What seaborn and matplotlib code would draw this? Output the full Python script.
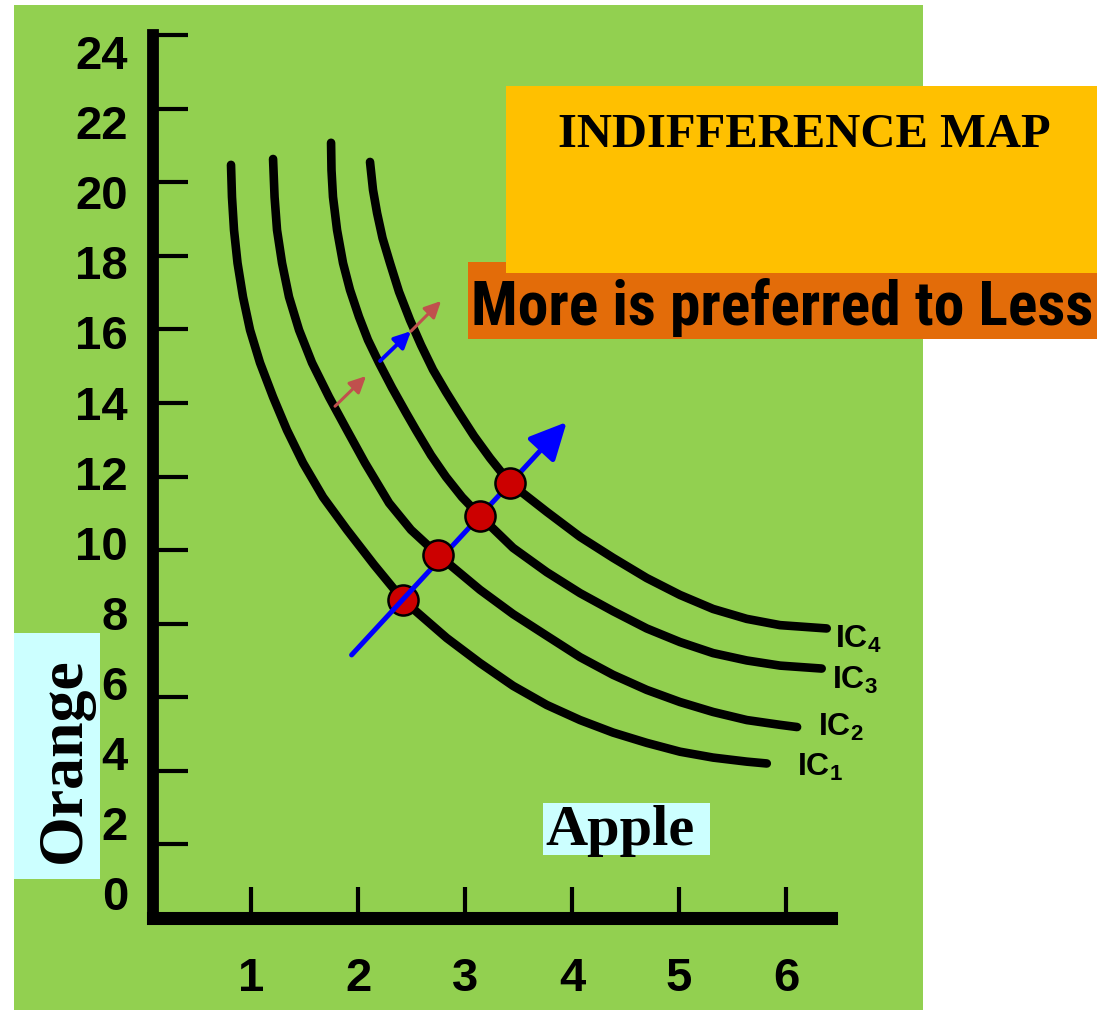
import numpy as np
import pandas as pd
import matplotlib
matplotlib.use("Agg")
import matplotlib.pyplot as plt
from matplotlib import font_manager
from matplotlib.font_manager import FontProperties
from matplotlib.patches import Rectangle
import seaborn as sns

# indifference curves (apple, orange)
apple_ic1 = [0.813, 0.822, 0.841, 0.874, 0.925, 0.991, 1.084, 1.206, 1.336, 1.486, 1.673, 1.897, 2.150,
             2.421, 2.829, 3.140, 3.449, 3.764, 4.075, 4.383, 4.698, 5.009, 5.318, 5.633, 5.820]
orange_ic1 = [20.47, 19.60, 18.70, 17.80, 16.88, 15.98, 15.09, 14.16, 13.26, 12.37, 11.44, 10.55, 9.60,
              8.64, 7.61, 6.93, 6.31, 5.79, 5.38, 5.04, 4.76, 4.52, 4.36, 4.25, 4.20]
apple_ic2 = [1.206, 1.220, 1.243, 1.290, 1.355, 1.449, 1.570, 1.729, 1.897, 2.065, 2.290, 2.495,
             2.748, 3.140, 3.449, 3.764, 4.075, 4.383, 4.698, 5.009, 5.318, 5.633, 5.944, 6.103]
orange_ic2 = [20.63, 19.60, 18.70, 17.80, 16.88, 15.98, 15.09, 14.16, 13.26, 12.37, 11.28, 10.55,
              9.87, 8.92, 8.26, 7.67, 7.09, 6.61, 6.20, 5.87, 5.60, 5.38, 5.25, 5.19]
apple_ic3 = [1.748, 1.752, 1.766, 1.804, 1.860, 1.925, 2.009, 2.093, 2.196, 2.318, 2.449, 2.542, 2.682,
             2.822, 2.972, 3.140, 3.449, 3.764, 4.075, 4.383, 4.698, 5.009, 5.318, 5.633, 5.944, 6.333]
orange_ic3 = [21.07, 20.33, 19.60, 18.70, 17.80, 17.07, 16.34, 15.71, 15.09, 14.41, 13.73, 13.26, 12.58,
              11.99, 11.44, 10.93, 10.06, 9.40, 8.83, 8.34, 7.87, 7.50, 7.20, 7.00, 6.86, 6.78]
apple_ic4 = [2.112, 2.140, 2.178, 2.229, 2.299, 2.383, 2.486, 2.589, 2.701, 2.822, 2.944, 3.084, 3.234,
             3.421, 3.764, 4.075, 4.383, 4.698, 5.009, 5.318, 5.633, 5.944, 6.380]
orange_ic4 = [20.55, 19.79, 19.16, 18.48, 17.80, 17.02, 16.25, 15.57, 14.90, 14.30, 13.73, 13.10, 12.50,
              11.82, 11.04, 10.36, 9.79, 9.24, 8.78, 8.40, 8.13, 7.96, 7.87]
curve_names = ["IC1", "IC2", "IC3", "IC4"]

# chosen bundles (red dots)
bundle_apple = [2.42, 2.75, 3.14, 3.42]
bundle_orange = [8.64, 9.87, 10.93, 11.82]

# arrows: (tail, tip)
big_arrow = ((1.94, 7.15), (3.95, 13.48))
small_arrows = [((1.785, 13.91), (2.075, 14.73), "#C0504D"),
                ((2.495, 15.95), (2.776, 16.77), "#C0504D"),
                ((2.206, 15.14), (2.495, 15.95), "#0000FF")]

x_ticks = [1, 2, 3, 4, 5, 6]
y_ticks = [2, 4, 6, 8, 10, 12, 14, 16, 18, 20, 22, 24]
y_tick_labels = [0, 2, 4, 6, 8, 10, 12, 14, 16, 18, 20, 22, 24]

sns.set_style("ticks")
plt.rcParams["font.family"] = ["Liberation Sans", "DejaVu Sans"]
plt.rcParams["font.weight"] = "bold"
for k in ["text.color", "xtick.color", "ytick.color", "axes.labelcolor", "axes.edgecolor"]:
    plt.rcParams[k] = "black"
plt.rcParams["mathtext.fontset"] = "custom"
for k in ["rm", "it", "bf", "sf"]:
    plt.rcParams["mathtext." + k] = "Liberation Sans:bold"

# a narrow bold face for the slogan, if one is installed
narrow_prop = None
for cand in ["Liberation Sans Narrow", "Roboto Condensed", "Open Sans Condensed", "Noto Sans Condensed"]:
    for f in font_manager.fontManager.ttflist:
        if f.name == cand and f.weight in ("bold", 700):
            narrow_prop = FontProperties(fname=f.fname)
            break
    if narrow_prop is not None:
        break
if narrow_prop is None:
    for f in font_manager.fontManager.ttflist:
        if f.stretch in ("condensed", "semi-condensed", 300, 400) and f.weight in ("bold", 700):
            narrow_prop = FontProperties(fname=f.fname)
            break
if narrow_prop is None:
    narrow_prop = FontProperties(family="Liberation Sans", weight="bold")

W, H = 1097, 1010
fig = plt.figure(figsize=(W / 100, H / 100), dpi=100)
fig.patch.set_facecolor("white")


def box(x0, y0, x1, y1, color, z):
    fig.add_artist(Rectangle((x0 / W, 1 - y1 / H), (x1 - x0) / W, (y1 - y0) / H,
                             transform=fig.transFigure, color=color, lw=0, zorder=z))


box(14, 5, 923, 1010, "#92D050", -5)
box(14, 633, 100, 879, "#CCFFFF", 1)
box(543, 803, 710, 855, "#CCFFFF", 1)
box(468, 262, 1097, 339, "#E36C09", 1)
box(506, 86, 1097, 273, "#FFC000", 2)

ax = fig.add_axes([153 / W, 1 - 918 / H, (831 - 153) / W, (918 - 35) / H])
ax.set_facecolor("none")

df = pd.concat([
    pd.DataFrame({"apple": a, "orange": o, "curve": n})
    for a, o, n in zip([apple_ic1, apple_ic2, apple_ic3, apple_ic4],
                       [orange_ic1, orange_ic2, orange_ic3, orange_ic4], curve_names)
])
sns.lineplot(data=df, x="apple", y="orange", units="curve", estimator=None, sort=False,
             color="black", lw=6.2, solid_capstyle="round", solid_joinstyle="round",
             zorder=2, ax=ax, legend=False)

# expansion arrow, first dot sits under it, the others above
sns.scatterplot(x=bundle_apple[:1], y=bundle_orange[:1], s=470, color="#CC0000",
                edgecolor="black", linewidth=1.8, zorder=3, ax=ax, legend=False)
(tx, ty), (hx, hy) = big_arrow
ax.annotate("", xy=(hx, hy), xytext=(tx, ty), zorder=4, annotation_clip=False,
            arrowprops=dict(arrowstyle="-|>,head_length=0.45,head_width=0.22", color="#0000FF",
                            lw=3.6, mutation_scale=50, shrinkA=0, shrinkB=0))
sns.scatterplot(x=bundle_apple[1:], y=bundle_orange[1:], s=470, color="#CC0000",
                edgecolor="black", linewidth=1.8, zorder=5, ax=ax, legend=False)

for (tx, ty), (hx, hy), c in small_arrows:
    ax.annotate("", xy=(hx, hy), xytext=(tx, ty), zorder=4,
                arrowprops=dict(arrowstyle="-|>,head_length=0.45,head_width=0.22", color=c,
                                lw=2.2 if c != "#0000FF" else 2.8, mutation_scale=22,
                                shrinkA=0, shrinkB=0))

# curve labels
label_offsets = [(21.6, -8.6), (15.1, -6.5), (7.2, -14.4), (5.8, -13.7)]
ends = [(apple_ic1[-1], orange_ic1[-1]), (apple_ic2[-1], orange_ic2[-1]),
        (apple_ic3[-1], orange_ic3[-1]), (apple_ic4[-1], orange_ic4[-1])]
for n, (ex, ey), off in zip(curve_names, ends, label_offsets):
    ax.annotate(r"$\mathrm{IC}_{%s}$" % n[-1], xy=(ex, ey), xytext=off,
                textcoords="offset points", ha="left", va="baseline", fontsize=23,
                annotation_clip=False)

ax.set_xlim(0.084, 6.42)
ax.set_ylim(0, 24)
for s in ["top", "right"]:
    ax.spines[s].set_visible(False)
ax.spines["left"].set_linewidth(8.5)
ax.spines["bottom"].set_linewidth(9.4)
ax.spines["bottom"].set_capstyle("projecting")

ax.set_xticks(x_ticks, [str(v) for v in x_ticks])
ax.set_yticks(y_ticks)
ax.tick_params(axis="y", direction="in", length=25, width=3, color="black", labelleft=False)
ax.tick_params(axis="x", direction="in", length=22, width=3, color="black", pad=28,
               labelsize=34, labelcolor="black")
ax.set_xlabel("")
ax.set_ylabel("")

# hand-drawn y labels are spaced slightly differently from the tick marks
sec = ax.secondary_yaxis("left", functions=(lambda y: (36.8 * y - 25) / 35.04,
                                              lambda v: (35.04 * v + 25) / 36.8))
sec.set_yticks(y_tick_labels)
sec.tick_params(length=0, pad=18, labelsize=34, labelcolor="black")
sec.spines["left"].set_visible(False)

fig.text(65 / W, 1 - 760 / H, "Orange", rotation=90, ha="center", va="center",
         family="Liberation Serif", fontsize=46, zorder=3)
fig.text(545 / W, 1 - 845 / H, "Apple", ha="left", va="baseline",
         family="Liberation Serif", fontsize=42, zorder=3)
fig.text(804 / W, 1 - 147 / H, "INDIFFERENCE MAP", ha="center", va="baseline",
         family="Liberation Serif", fontsize=35, zorder=3)
slogan = fig.text(471 / W, 1 - 325 / H, "More is preferred to Less", ha="left", va="baseline",
                  fontproperties=narrow_prop, fontsize=45, zorder=3)
renderer = fig.canvas.get_renderer()
width = slogan.get_window_extent(renderer).width
slogan.set_fontsize(min(45, 45 * 622 / width))

fig.savefig("out.png", dpi=100, facecolor="white")
